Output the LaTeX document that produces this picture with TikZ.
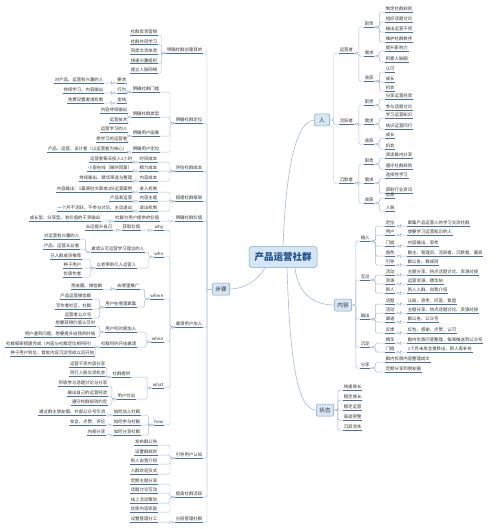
\documentclass[tikz,border=0pt]{standalone}
\usepackage{fontspec}
\newfontfamily\cjk{Noto Sans CJK SC}
\definecolor{linec}{HTML}{A8BBD0}
\definecolor{ulc}{HTML}{44719F}
\definecolor{txt}{HTML}{333333}
\definecolor{boxf}{HTML}{D6E6F5}
\definecolor{boxd}{HTML}{7FA5CC}
\definecolor{roottxt}{HTML}{1F4E8C}
\tikzset{
  conn/.style={draw=linec, line width=0.4pt, rounded corners=1.5pt},
  branch/.style={draw=linec, line width=0.6pt},
  knob/.style={draw=linec, fill=white, line width=0.35pt},
  uline/.style={draw=ulc, line width=0.6pt},
  leaf/.style={font={\cjk\fontsize{4.4}{5}\selectfont}, text=txt, inner xsep=0.6pt, inner ysep=0.9pt,
    append after command={(\tikzlastnode.south west) edge[uline] (\tikzlastnode.south east)}},
  lft/.style={leaf, anchor=east},
  rgt/.style={leaf, anchor=west},
  topicbox/.style={draw=boxd, fill=boxf, rounded corners=1.2pt, line width=0.5pt,
    font={\cjk\fontsize{5.6}{6}\selectfont}, text=txt, inner xsep=3pt, inner ysep=2pt, minimum height=12pt},
  rootbox/.style={topicbox, rounded corners=3pt, font={\cjk\bfseries\fontsize{9.5}{10}\selectfont},
    text=roottxt, minimum width=68pt, minimum height=21pt},
}
% left / right / box links
\newcommand{\lk}[2]{\draw[conn] (#1.south west) -- ++(-5,0) |- (#2.south east);
  \draw[knob] ([xshift=-2.5pt]#1.south west) circle (1.1pt);}
\newcommand{\rk}[2]{\draw[conn] (#1.south east) -- ++(5,0) |- (#2.south west);
  \draw[knob] ([xshift=2.5pt]#1.south east) circle (1.1pt);}
\newcommand{\bk}[2]{\draw[conn] (#1.east) -- ++(4,0) |- (#2.south west);}

\begin{document}
\begin{tikzpicture}[x=1pt,y=-1pt]
\fill[white] (0,0) rectangle (500,529);
\useasboundingbox (0,0) rectangle (500,529);

% centre and first level
\node[rootbox] (cc) at (283,257) {产品运营社群};
\node[topicbox, minimum width=15pt] (ren) at (322,120) {人};
\node[topicbox] (nr) at (343,305) {内容};
\node[topicbox] (zt) at (325,410) {状态};
\node[topicbox] (bz) at (221,289) {步骤};
\draw[branch] (cc.north) .. controls (286,170) and (295,122) .. (ren.west);
\draw[branch] ([xshift=12pt]cc.south) .. controls (298,295) and (315,305) .. (nr.west);
\draw[branch] ([xshift=4pt]cc.south) .. controls (290,365) and (298,410) .. (zt.west);
\draw[branch] (bz.east) .. controls (245,289) and (258,280) .. ([xshift=-18pt]cc.south);

% ---------- 步骤 ----------
\node[lft] (mdi) at (203,50) {明确社群创建目的};
\node[lft] (mdw) at (203,120) {明确社群定位};
\node[lft] (mcb) at (203,168) {评估社群成本};
\node[lft] (mkj) at (203,198) {搭建社群框架};
\node[lft] (mjz) at (203,218) {明确社群价值};
\node[lft] (myq) at (203,324) {邀请用户加入};
\node[lft] (mrz) at (203,455) {引导用户认知};
\node[lft] (mhy) at (203,494) {提高社群活跃};
\node[lft] (mfc) at (203,519) {分层管理社群};
\coordinate (sj) at (207,289);
\draw[conn] (bz.west) -- (sj);
\foreach \m in {mdi,mdw,mcb,mkj,mjz,myq,mrz,mhy,mfc}{\draw[conn] (sj) |- (\m.south east);}

% 创建目的
\foreach \tx [count=\i] in {社群卖货营销,社群共同学习,同类交流体验,快速兴趣组织,建立人脉网络}{
  \node[lft] (mdi\i) at (158,{22.5+9.5*\i}) {\tx}; \lk{mdi}{mdi\i}}

% 定位
\node[lft] (mk) at (160,89) {明确社群门槛};
\node[lft] (ml) at (160,114) {明确社群类型};
\node[lft] (mh) at (160,133) {明确用户画像};
\node[lft] (mp) at (160,149) {明确用户定位};
\foreach \n in {mk,ml,mh,mp}{\lk{mdw}{\n}}
\foreach \ky/\vl/\py [count=\i] in {要求/对产品、运营有兴趣的人/80, 行为/持续学习、内容输出/90, 金钱/免费设置邀请机制/100}{
  \node[lft] (mkk\i) at (127,\py) {\ky}; \node[lft] (mkv\i) at (104,\py) {\vl};
  \lk{mk}{mkk\i} \lk{mkk\i}{mkv\i}}
\foreach \tx/\py [count=\i] in {内容持续输出/110, 运营技术/120}{
  \node[lft] (ml\i) at (128,\py) {\tx}; \lk{ml}{ml\i}}
\foreach \tx/\py [count=\i] in {运营学习的人/129, 想学习的运营者/139}{
  \node[lft] (mh\i) at (128,\py) {\tx}; \lk{mh}{mh\i}}
\node[lft] (mp1) at (128,149) {产品、运营、设计者（以运营者为核心）}; \lk{mp}{mp1}

% 成本
\foreach \ky/\vl/\py [count=\i] in {时间成本/运营者每天投入1小时/159, 精力成本/小窗在线（随时回复）/168, 内容成本/持续输出、精华筛选与整理/178}{
  \node[lft] (mck\i) at (158,\py) {\ky}; \node[lft] (mcv\i) at (133,\py) {\vl};
  \lk{mcb}{mck\i} \lk{mck\i}{mcv\i}}

% 框架
\foreach \ky/\vl/\py [count=\i] in {进入机制/内容输出：1篇原创文章或1份运营案例/189, 内容主题/产品和运营/198, 退出机制/一个月不活跃、不参与讨论、主动退出/208}{
  \node[lft] (mjk\i) at (158,\py) {\ky}; \node[lft] (mjv\i) at (133,\py) {\vl};
  \lk{mkj}{mjk\i} \lk{mjk\i}{mjv\i}}

% 价值
\node[lft] (mzk) at (160,218) {社群为用户提供的价值};
\node[lft] (mzv) at (101,218) {成长型、分享型、有价值的干货输出};
\lk{mjz}{mzk} \lk{mzk}{mzv}

% 邀请用户加入
\foreach \n/\tx/\py in {qa/why/227, qb/who/254, qc/where/296, qd/when/339, qe/what/385, qf/how/422}{
  \node[lft] (\n) at (164,\py) {\tx}; \lk{myq}{\n}}
% why
\node[lft] (qa1) at (141,227) {获取价值}; \lk{qa}{qa1}
\node[lft] (qa2) at (113,227) {长远提升自己}; \lk{qa1}{qa2}
% who
\node[lft] (qb1) at (145,249) {邀请认可运营学习理念的人}; \lk{qb}{qb1}
\node[lft] (qb2) at (137,265) {以老带新引入运营人}; \lk{qb}{qb2}
\foreach \tx/\py [count=\i] in {对运营有兴趣的人/236, 产品、运营从业者/246}{
  \node[lft] (qb1\i) at (80,\py) {\tx}; \lk{qb1}{qb1\i}}
\foreach \tx/\py [count=\i] in {已入群成员推荐/256, 种子用户/265, 优质作者/274}{
  \node[lft] (qb2\i) at (82,\py) {\tx}; \lk{qb2}{qb2\i}}
% where
\node[lft] (qc1) at (140,286) {去哪里推广}; \lk{qc}{qc1}
\node[lft] (qc2) at (103,286) {朋友圈、微信群}; \lk{qc1}{qc2}
\node[lft] (qc3) at (137,304) {用户在哪里聚集}; \lk{qc}{qc3}
\foreach \tx/\py [count=\i] in {产品运营微信群/296, 写作者社区、社群/306, 运营者公众号/315}{
  \node[lft] (qc3\i) at (92,\py) {\tx}; \lk{qc3}{qc3\i}}
% when
\node[lft] (qd1) at (137,329) {用户何时愿加入}; \lk{qd}{qd1}
\node[lft] (qd2) at (137,344) {社群何时开始邀请}; \lk{qd}{qd2}
\foreach \tx/\py [count=\i] in {想要获得价值认可时/323, 用户遇到问题、想要提升自我的时候/334}{
  \node[lft] (qd1\i) at (96,\py) {\tx}; \lk{qd1}{qd1\i}}
\foreach \tx/\py [count=\i] in {社群框架搭建完成（内容与社群定位相符时）/344, 种子用户到位、首批内容沉淀完成以后开始/353}{
  \node[lft] (qd2\i) at (95,\py) {\tx}; \lk{qd2}{qd2\i}}
% what
\node[lft] (qe1) at (131,374) {社群提供}; \lk{qe}{qe1}
\node[lft] (qe2) at (136,396) {用户付出}; \lk{qe}{qe2}
\foreach \tx/\py [count=\i] in {运营干货内容分享/364, 同行人脉交流机会/373}{
  \node[lft] (qe1\i) at (106,\py) {\tx}; \lk{qe1}{qe1\i}}
\foreach \tx/\py [count=\i] in {积极参与话题讨论与分享/383, 输出自己的运营经验/393, 遵守社群规则约定/402}{
  \node[lft] (qe2\i) at (108,\py) {\tx}; \lk{qe2}{qe2\i}}
% how
\foreach \ky/\vl/\py [count=\i] in {如何加入社群/通过群主朋友圈、外部公众号引流/412, 如何参与社群/发言、点赞、评论/422, 如何分享社群/内部分享/432}{
  \node[lft] (qfk\i) at (141,\py) {\ky}; \node[lft] (qfv\i) at (106,\py) {\vl};
  \lk{qf}{qfk\i} \lk{qfk\i}{qfv\i}}

% 认知 / 活跃 / 分层
\foreach \tx/\py [count=\i] in {发布群公告/442, 设置群规则/452, 新人自我介绍/461, 入群欢迎仪式/471}{
  \node[lft] (mrz\i) at (158,\py) {\tx}; \lk{mrz}{mrz\i}}
\foreach \tx/\py [count=\i] in {定期主题分享/481, 话题讨论互动/490, 线上活动策划/500, 优质内容奖励/509}{
  \node[lft] (mhy\i) at (158,\py) {\tx}; \lk{mhy}{mhy\i}}
\node[lft] (mfc1) at (158,519) {设置管理分工}; \lk{mfc}{mfc1}

% ---------- 人 ----------
\foreach \n/\tx/\py in {yy/运营者/50, hy/活跃者/121, cm/沉默者/180}{
  \node[rgt] (\n) at (339,\py) {\tx}; \bk{ren}{\n}}
\foreach \n/\tx/\py in {yya/职责/24, yyb/需求/53, yyc/收获/78}{
  \node[rgt] (\n) at (364,\py) {\tx}; \rk{yy}{\n}}
\foreach \n/\tx/\py in {hya/职责/102, hyb/需求/121, hyc/收获/141}{
  \node[rgt] (\n) at (364,\py) {\tx}; \rk{hy}{\n}}
\foreach \n/\tx/\py in {cma/职责/161, cmb/需求/180, cmc/收获/200}{
  \node[rgt] (\n) at (364,\py) {\tx}; \rk{cm}{\n}}
\foreach \p/\tx/\py [count=\i] in {yya/制定社群规则/9, yya/组织话题讨论/19, yya/输出运营干货/29, yya/维护社群秩序/39,
    yyb/提升影响力/48, yyb/积累人脉圈/59, yyc/认可/69, yyc/成长/79, yyc/机会/88,
    hya/分享运营经验/96, hya/参与话题讨论/107, hyb/学习运营知识/115, hyb/结识运营同行/126,
    hyc/成长/135, hyc/机会/146, cma/阅读群内分享/155, cma/遵守社群规则/166,
    cmb/选择性学习/175, cmb/获取行业资讯/190, cmc/信息/195, cmc/人脉/208}{
  \node[rgt] (rl\i) at (385,\py) {\tx}; \rk{\p}{rl\i}}

% ---------- 内容 ----------
\foreach \n/\tx/\py in {sra/输入/238, srb/互动/277, src/输出/316, srd/沉淀/344, sre/分享/365}{
  \node[rgt] (\n) at (360,\py) {\tx}; \bk{nr}{\n}}
\foreach \p/\ky/\vl/\py [count=\i] in {sra/定位/聚集产品运营人的学习交流社群/223, sra/用户/想要学习运营知识的人/232,
    sra/门槛/内容输出、思考/243, sra/角色/群主、管理员、活跃者、沉默者、嘉宾/253, sra/引导/群公告、群规则/262,
    srb/活动/主题分享、热点话题讨论、资源对接/272, srb/资源/运营资源、精华帖/281, srb/新人/新人入群、自我介绍/290,
    src/话题/认知、思考、问答、复盘/301, src/活动/主题分享、热点话题讨论、资源对接/310,
    src/渠道/群公告、公众号/319, src/反馈/红包、感谢、点赞、认可/330,
    srd/精华/群内优质问答整理，每周推送到公众号/340, srd/门槛/1个月未发言者移出，新人再补充/349}{
  \node[rgt] (nk\i) at (385,\py) {\ky}; \node[rgt] (nv\i) at (407,\py) {\vl};
  \rk{\p}{nk\i} \rk{nk\i}{nv\i}}
\foreach \tx/\py [count=\i] in {群内优质内容整理成文/359, 定期分享到朋友圈/369}{
  \node[rgt] (sre\i) at (385,\py) {\tx}; \rk{sre}{sre\i}}

% ---------- 状态 ----------
\foreach \tx/\py [count=\i] in {快速增长/387, 稳定增长/397, 稳定运营/407, 衰退预警/417, 沉寂流失/427}{
  \node[rgt] (zt\i) at (343,\py) {\tx}; \bk{zt}{zt\i}}
\end{tikzpicture}
\end{document}
